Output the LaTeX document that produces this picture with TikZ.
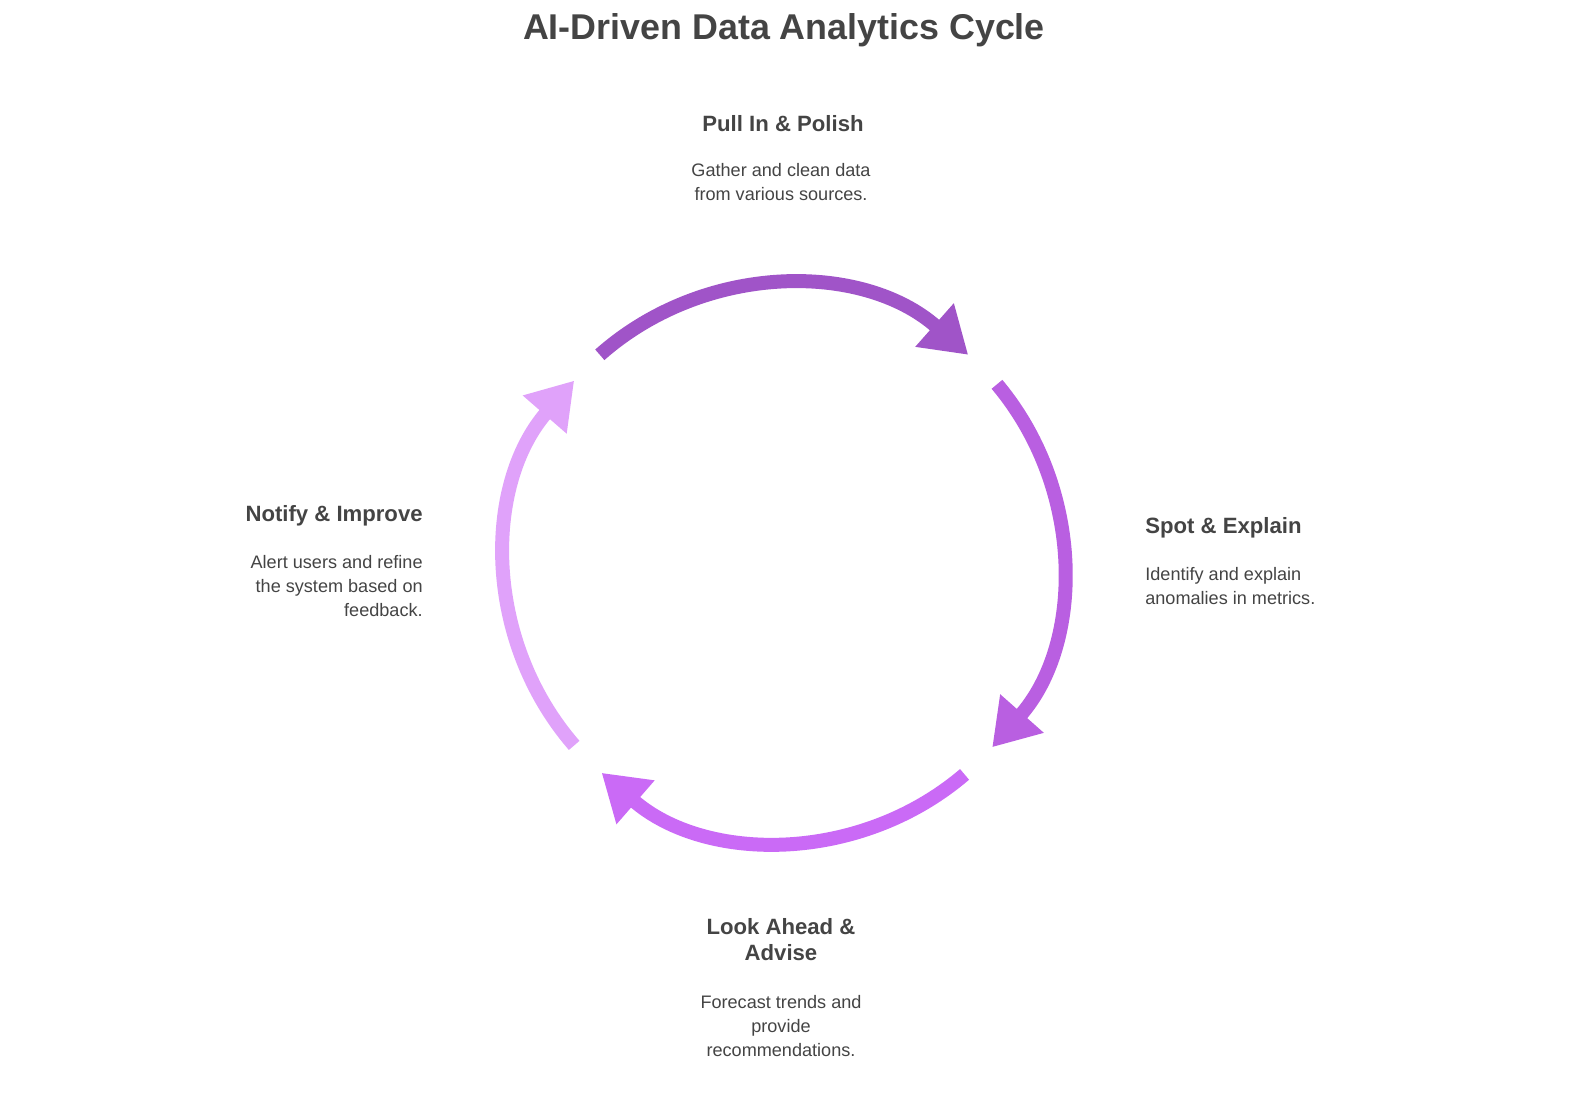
\documentclass[tikz,border=0pt]{standalone}
\usepackage{fontspec}
\setmainfont{Liberation Sans}
\usetikzlibrary{arrows.meta,positioning}
\definecolor{stepA}{RGB}{160,84,200}
\definecolor{stepB}{RGB}{185,95,225}
\definecolor{stepC}{RGB}{202,106,246}
\definecolor{stepD}{RGB}{224,162,250}
\definecolor{txt}{RGB}{68,68,68}
\begin{document}
\begin{tikzpicture}[x=0.02cm,y=-0.02cm,
	heading/.style={font=\fontsize{12.6}{15}\selectfont\bfseries, text=txt, inner sep=0pt},
	body/.style={font=\fontsize{10.3}{13.6}\selectfont, text=txt, inner sep=0pt},
	cyclearc/.style={line width=0.28cm, -{Triangle[width=1.1cm,length=0.9cm]}}]
		\useasboundingbox (0,0) rectangle (1584,1100);
		\coordinate (hub) at (784,563);
		
		% title
		\node[font=\fontsize{20.4}{24}\selectfont\bfseries, text=txt] (title) at (784,30) {AI-Driven Data Analytics Cycle};
		
		% cycle arcs (y axis points down, so angles run clockwise)
		\draw[cyclearc, stepA] ([shift={(-131.5:278)}]hub) arc[start angle=-131.5, end angle=-48.5, radius=278];
		\draw[cyclearc, stepB] ([shift={(-40:278)}]hub) arc[start angle=-40, end angle=41.5, radius=278];
		\draw[cyclearc, stepC] ([shift={(49.5:278)}]hub) arc[start angle=49.5, end angle=131, radius=278];
		\draw[cyclearc, stepD] ([shift={(139:278)}]hub) arc[start angle=139, end angle=221, radius=278];
		
		% top step
		\node[heading] (pullT) at (783,124) {Pull In \& Polish};
		\node[body, align=center, anchor=north] (pullB) at (781,163) {Gather and clean data\\from various sources.};
		
		% right step
		\node[heading, anchor=west] (spotT) at (1145,528) {Spot \& Explain};
		\node[body, align=left, anchor=north west] (spotB) at (1145,567) {Identify and explain\\anomalies in metrics.};
		
		% bottom step
		\node[heading, align=center, anchor=north] (lookT) at (781,918) {Look Ahead \&\\Advise};
		\node[body, align=center, anchor=north] (lookB) at (781,995) {Forecast trends and\\provide\\recommendations.};
		
		% left step
		\node[heading, anchor=east] (notT) at (423,516) {Notify \& Improve};
		\node[body, align=right, anchor=north east] (notB) at (423,555) {Alert users and refine\\the system based on\\feedback.};
	\end{tikzpicture}
\end{document}
